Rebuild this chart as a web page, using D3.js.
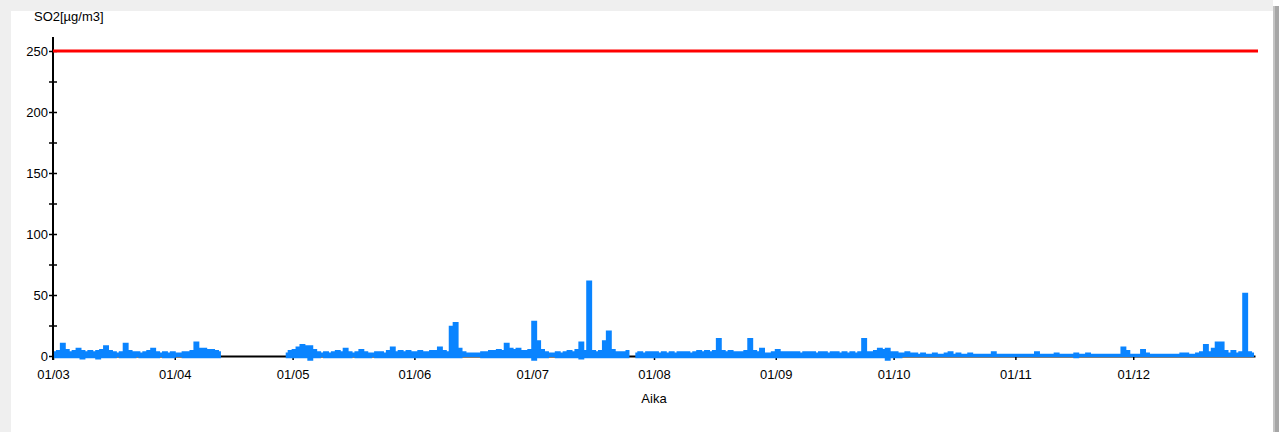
<!DOCTYPE html>
<html>
<head>
<meta charset="utf-8">
<script src="https://cdn.jsdelivr.net/npm/d3@7"></script>
<style>
  html, body { margin: 0; padding: 0; background: #fff; }
  svg { display: block; font-family: "Liberation Sans", Arial, Helvetica, sans-serif; }
</style>
</head>
<body>
<svg id="chart" width="1282" height="432"></svg>
<script>
// Measurement period (one value pair per day, first day = seriesStart)
const seriesStart = "2019-03-01";
const seriesEnd = "2020-01-01";

// Hourly SO2 concentrations summarised per day: highest and lowest reading [µg/m3].
// null = no measurements that day.
const dailyMax = [
  // March
  3,4,10,5,3, 4,6,4,3,4, 3,4,5,8,4, 3,2,3,10,4, 3,3,2,3,4, 6,3,2,3,2, 3,
  // April
  2,2,3,3,4, 11,6,6,5,5, 4,3, null,null,null,null,null,null,null,null,null,null,null,null,null,null,null,null, 2,4,
  // May
  5,7,9,8,8, 5,3,2,3,2, 3,4,3,6,3, 2,3,5,3,2, 2,3,3,2,4, 7,3,4,3,4, 3,
  // June
  3,4,3,3,4, 4,7,4,3,24, 27,6,3,2,2, 2,2,3,3,4, 4,5,4,10,6, 5,6,4,4,5,
  // July
  28,12,5,3,2, 2,3,2,3,4, 3,5,11,4,61, 4,3,4,12,20, 5,3,3,3,4, null,2,3,2,3, 3,
  // August
  3,2,3,2,3, 2,3,3,3,2, 3,4,3,4,3, 4,14,4,3,4, 3,3,3,4,14, 4,3,6,2,2, 3,
  // September
  5,3,3,3,3, 3,2,3,3,3, 2,3,3,2,3, 3,2,3,2,3, 2,3,14,3,3, 4,6,5,6,3,
  // October
  3,2,2,3,2, 2,1,2,1,1, 2,1,1,2,3, 1,2,1,1,2, 1,1,1,1,1, 3,1,1,1,1, 1,
  // November
  1,1,1,1,1, 3,1,1,1,1, 2,1,1,1,1, 2,1,1,2,1, 1,1,1,1,1, 1,1,7,4,1,
  // December
  1,1,5,2,1, 1,1,1,1,1, 1,1,2,2,1, 1,2,3,9,3, 6,11,11,4,2, 4,2,3,51,3, 2
];

const dailyMin = [
  // March
  -1,-1,-1,-1,-1, -1,-1,-2,-1,-1, -1,-2,-1,-1,-1, -1,0,-1,-1,-1, -1,0,-1,-1,-1, -1,-1,0,-1,-1, -1,
  // April
  0,0,-1,-1,-1, -1,-1,-1,-1,-1, -1,-1, null,null,null,null,null,null,null,null,null,null,null,null,null,null,null,null, -1,-1,
  // May
  -1,-1,-1,-1,-3, -1,-1,0,-1,-1, -1,-1,-1,-1,-1, 0,-1,-1,-1,-1, 0,-1,-1,-1,-1, -1,-1,-1,-1,-1, -1,
  // June
  -1,-1,-1,-1,-1, -1,-1,-1,-1,-1, -1,-1,0,0,0, 0,0,-1,-1,-1, -1,-1,-1,-1,-1, -1,-1,-1,-1,-1,
  // July
  -3,-1,-1,-1,0, 0,-1,-1,-1,-1, -1,-1,-2,-1,-1, -1,-1,-1,-1,-1, -1,-1,-1,-1,-1, null,-1,-1,-1,-1, -1,
  // August
  -1,-1,-1,-1,-1, -1,-1,-1,-1,-1, -1,-1,-1,-1,-1, -1,-1,-1,-1,-1, -1,-1,-1,-1,-1, -1,-1,-1,-1,-1, -1,
  // September
  -1,-1,-1,-1,-1, -1,-1,-1,-1,-1, -1,-1,-1,-1,-1, -1,-1,-1,-1,-1, -1,-1,-1,-1,-1, -1,-1,-1,-3,-1,
  // October
  -1,-1,0,0,0, 0,0,0,0,0, 0,0,0,0,0, 0,0,0,0,0, 0,0,0,0,0, 0,0,0,0,0, 0,
  // November
  0,0,0,0,0, 0,0,0,0,0, 0,0,0,0,0, -1,0,0,0,0, 0,0,0,0,0, 0,0,0,0,0,
  // December
  0,0,0,0,0, 0,0,0,0,0, 0,0,0,0,0, 0,0,0,0,0, 0,0,0,0,0, 0,0,0,0,0, 0
];

// Limit value drawn as a horizontal reference line
const limitValue = 250;

// Axis ticks and titles
const yTicks = [0, 25, 50, 75, 100, 125, 150, 175, 200, 225, 250];
const yLabelEvery = 50;
const yTitle = "SO2[µg/m3]";
const xTitle = "Aika";
const xTickFormat = "%d/%m";

const svg = d3.select("#chart");
const W = 1282, H = 432;

// Page panel: light frame on top/left, shaded edge on the right
svg.append("rect").attr("x", 0).attr("y", 0).attr("width", W).attr("height", H).attr("fill", "#fff");
svg.append("rect").attr("x", 0).attr("y", 0).attr("width", 1273).attr("height", 11).attr("fill", "#efefef");
svg.append("rect").attr("x", 0).attr("y", 0).attr("width", 11).attr("height", H).attr("fill", "#efefef");
svg.append("rect").attr("x", 1273).attr("y", 6).attr("width", 2).attr("height", H - 6).attr("fill", "#c4c4c4");
svg.append("rect").attr("x", 1275).attr("y", 6).attr("width", 4).attr("height", H - 6).attr("fill", "#a6a6a6");

const parseDay = d3.utcParse("%Y-%m-%d");
const t0 = parseDay(seriesStart);
const t1 = parseDay(seriesEnd);

const x = d3.scaleUtc().domain([t0, t1]).range([53, 1255]);
const y = d3.scaleLinear().domain([0, 250]).range([356, 51]);

const records = dailyMax.map((hi, i) => ({
  t: d3.utcHour.offset(d3.utcDay.offset(t0, i), 12),
  hi: hi,
  lo: dailyMin[i]
}));

const fontSize = 13;

// X axis
const xAxis = d3.axisBottom(x)
  .tickValues(d3.utcMonth.range(t0, t1))
  .tickFormat(d3.utcFormat(xTickFormat))
  .tickSize(4)
  .tickSizeOuter(0)
  .tickPadding(10);

const gx = svg.append("g")
  .attr("transform", `translate(0,${y(0)})`)
  .call(xAxis);
gx.select(".domain").attr("stroke", "#000").attr("stroke-width", 2);
gx.selectAll(".tick line").attr("stroke", "#000").attr("stroke-width", 1.5);
gx.selectAll(".tick text")
  .attr("fill", "#000")
  .attr("font-size", fontSize)
  .attr("font-family", "Liberation Sans, Arial, sans-serif");

// Y axis
const yAxis = d3.axisLeft(y)
  .tickValues(yTicks)
  .tickFormat(v => (v % yLabelEvery === 0 ? v : ""))
  .tickSize(4)
  .tickSizeOuter(0)
  .tickPadding(1);

const gy = svg.append("g")
  .attr("transform", `translate(${x(t0)},0)`)
  .call(yAxis);
gy.select(".domain").remove();
gy.append("line")
  .attr("x1", 0).attr("x2", 0)
  .attr("y1", y(limitValue) - 14)
  .attr("y2", y(0) + 4)
  .attr("stroke", "#000")
  .attr("stroke-width", 2);
gy.selectAll(".tick line").attr("x1", 4).attr("stroke", "#000").attr("stroke-width", 1.5);
gy.selectAll(".tick text")
  .attr("fill", "#000")
  .attr("font-size", fontSize)
  .attr("font-family", "Liberation Sans, Arial, sans-serif");

// Limit line
svg.append("line")
  .attr("x1", x(t0))
  .attr("x2", x(t1) + 3)
  .attr("y1", y(limitValue))
  .attr("y2", y(limitValue))
  .attr("stroke", "#ff0000")
  .attr("stroke-width", 3);

// Daily range of the measured concentration
const band = d3.area()
  .defined(d => d.hi != null)
  .curve(d3.curveStep)
  .x(d => x(d.t))
  .y0(d => y(d.lo))
  .y1(d => y(d.hi));

svg.append("path")
  .datum(records)
  .attr("d", band)
  .attr("fill", "#0a84ff")
  .attr("stroke", "#0a84ff")
  .attr("stroke-width", 2)
  .attr("stroke-linejoin", "miter");

// Titles
svg.append("text")
  .attr("x", 34)
  .attr("y", 21)
  .attr("font-size", fontSize)
  .attr("fill", "#000")
  .text(yTitle);

svg.append("text")
  .attr("x", (x(t0) + x(t1)) / 2)
  .attr("y", 403)
  .attr("text-anchor", "middle")
  .attr("font-size", fontSize)
  .attr("fill", "#000")
  .text(xTitle);
</script>
</body>
</html>
